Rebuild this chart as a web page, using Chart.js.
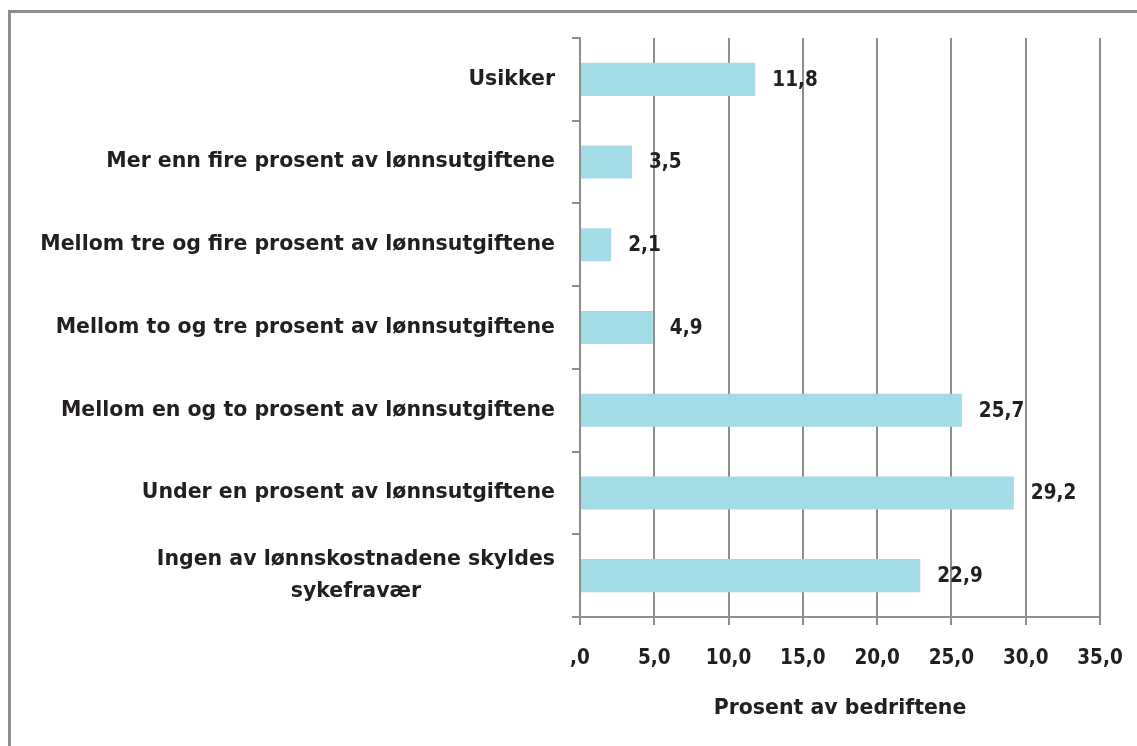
<!DOCTYPE html>
<html>
<head>
<meta charset="utf-8">
<script src="https://cdn.jsdelivr.net/npm/chart.js@4/dist/chart.umd.min.js"></script>
<style>
html,body{margin:0;padding:0;background:#fff;overflow:hidden;}
#frame{position:absolute;left:8px;top:10px;width:1140px;height:760px;border-left:3px solid #8e8e8e;border-top:3px solid #8e8e8e;box-sizing:border-box;}
#c{position:absolute;left:0;top:0;}
</style>
</head>
<body>
<div id="frame"></div>
<canvas id="c" width="1137" height="746"></canvas>
<script>
const categories = [
  'Usikker',
  'Mer enn fire prosent av lønnsutgiftene',
  'Mellom tre og fire prosent av lønnsutgiftene',
  'Mellom to og tre prosent av lønnsutgiftene',
  'Mellom en og to prosent av lønnsutgiftene',
  'Under en prosent av lønnsutgiftene',
  ['Ingen av lønnskostnadene skyldes', 'sykefravær']
];
const values = [11.8, 3.5, 2.1, 4.9, 25.7, 29.2, 22.9];
const xTickLabels = [',0', '5,0', '10,0', '15,0', '20,0', '25,0', '30,0', '35,0'];
const xTitle = 'Prosent av bedriftene';

const FONT_WIDE = '"DejaVu Sans", sans-serif';
const FONT_NUM = '"DejaVu Sans Condensed", "DejaVu Sans", sans-serif';
const TEXT = '#231f20';
const GRID = '#8e8e8e';
const fmt = v => v.toFixed(1).replace('.', ',');

const labelsPlugin = {
  id: 'labelsPlugin',
  afterDatasetsDraw(chart) {
    const ctx = chart.ctx;
    const ys = chart.scales.y;
    ctx.save();
    ctx.fillStyle = TEXT;
    ctx.font = 'bold 20.5px ' + FONT_WIDE;
    ctx.textBaseline = 'middle';
    // category labels
    const xr = ys.right - 8 - 17;
    categories.forEach((lab, i) => {
      const y = ys.getPixelForValue(i);
      if (Array.isArray(lab)) {
        const w = Math.max(...lab.map(l => ctx.measureText(l).width));
        const cx = xr - w / 2;
        const lh = 32;
        ctx.textAlign = 'center';
        lab.forEach((l, k) => {
          ctx.fillText(l, cx, y + (k - (lab.length - 1) / 2) * lh);
        });
      } else {
        ctx.textAlign = 'right';
        ctx.fillText(lab, xr, y);
      }
    });
    // value labels
    ctx.font = 'bold 20.5px ' + FONT_NUM;
    ctx.textAlign = 'left';
    const meta = chart.getDatasetMeta(0);
    meta.data.forEach((bar, i) => {
      ctx.fillText(fmt(values[i]), bar.x + 17, bar.y + 1);
    });
    ctx.restore();
  }
};

new Chart(document.getElementById('c'), {
  type: 'bar',
  data: {
    labels: categories,
    datasets: [{
      data: values,
      backgroundColor: '#a3dbe7',
      borderWidth: 0,
      barPercentage: 0.4,
      categoryPercentage: 1
    }]
  },
  options: {
    indexAxis: 'y',
    responsive: false,
    animation: false,
    layout: { padding: { left: 0, top: 38, right: 37, bottom: 0 } },
    plugins: { legend: { display: false }, tooltip: { enabled: false } },
    scales: {
      x: {
        min: 0, max: 35,
        ticks: {
          stepSize: 5,
          color: TEXT,
          font: { family: FONT_NUM, size: 20.5, weight: 'bold' },
          padding: 21,
          maxRotation: 0,
          callback: (v, i) => xTickLabels[i]
        },
        grid: { color: GRID, lineWidth: 2, tickLength: 8, drawOnChartArea: true },
        border: { color: GRID, width: 2 },
        title: {
          display: true, text: xTitle, color: TEXT,
          font: { family: FONT_WIDE, size: 20.5, weight: 'bold' },
          padding: { top: 0, bottom: 25 }
        },
        afterFit: s => { s.height = 129; s.paddingLeft = 0; s.paddingRight = 0; }
      },
      y: {
        ticks: { display: false },
        grid: { offset: true, drawOnChartArea: false, drawTicks: true, tickLength: 8, color: GRID, lineWidth: 2 },
        border: { color: GRID, width: 2 },
        afterFit: s => { s.width = 580; s.paddingTop = 0; s.paddingBottom = 0; }
      }
    }
  },
  plugins: [labelsPlugin]
});
</script>
</body>
</html>
